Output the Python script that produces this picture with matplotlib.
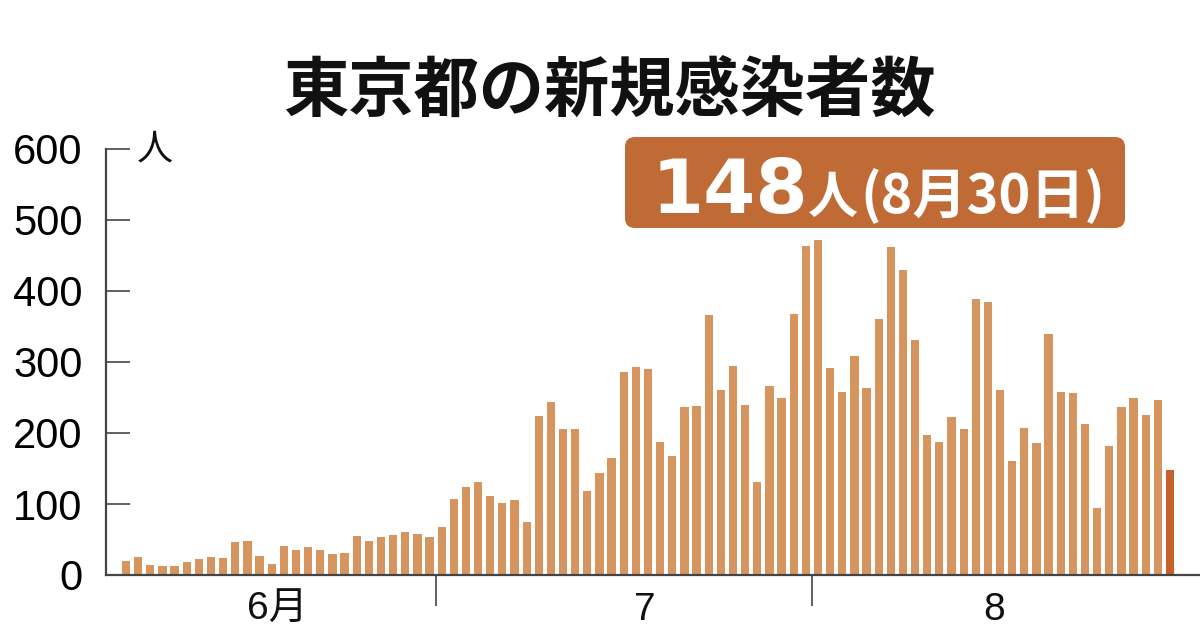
import matplotlib
matplotlib.use("Agg")
import matplotlib.pyplot as plt
from matplotlib.patches import FancyBboxPatch
import numpy as np

# Daily new cases in Tokyo, 2020-06-05 .. 2020-08-30
june = [20, 26, 14, 13, 12, 18, 22, 25, 24, 47, 48, 27, 16, 41, 35, 39, 35, 29, 31,
        55, 48, 54, 57, 60, 58, 54]
july = [67, 107, 124, 131, 111, 102, 106, 75, 224, 243, 206, 206, 119, 143, 165, 286,
        293, 290, 188, 168, 237, 238, 366, 260, 295, 239, 131, 266, 250, 367, 463]
august = [472, 292, 258, 309, 263, 360, 462, 429, 331, 197, 188, 222, 206, 389, 385,
          260, 161, 207, 186, 339, 258, 256, 212, 95, 182, 236, 250, 226, 247, 148]
values = june + july + august
month_labels = ["6月", "7", "8"]
yticks = [0, 100, 200, 300, 400, 500, 600]
title = "東京都の新規感染者数"
callout_big = "148"
callout_unit = "人"
callout_date = "(8月30日)"
unit = "人"

BAR = "#D6955F"
LAST = "#C5612A"
BOX = "#C06B36"
AXC = "#444444"
CJK = ["Noto Sans CJK JP", "DejaVu Sans"]
LAT = ["Liberation Sans", "Noto Sans CJK JP", "DejaVu Sans"]

fig = plt.figure(figsize=(12, 6.28), dpi=100)
fig.patch.set_facecolor("white")
ax = fig.add_axes([106 / 1200, 1 - 575 / 628, 1 - 106 / 1200, (575 - 149) / 628])

n = len(values)
x = np.arange(n)
colors = [BAR] * (n - 1) + [LAST]
ax.bar(x, values, width=0.68, color=colors, linewidth=0)

ax.set_xlim(-1.65, 88.47)
ax.set_ylim(0, 600)
for s in ["top", "right"]:
    ax.spines[s].set_visible(False)
for s in ["left", "bottom"]:
    ax.spines[s].set_color(AXC)
    ax.spines[s].set_linewidth(1.6)

ax.set_yticks(yticks)
ax.set_yticklabels([str(v) for v in yticks], family=LAT, fontsize=30)
ax.tick_params(axis="y", direction="in", length=17, width=1.2, color=AXC, pad=17)

n_jun, n_jul = len(june), len(july)
ax.set_xticks([n_jun - 0.5, n_jun + n_jul - 0.5])
ax.set_xticklabels([])
ax.tick_params(axis="x", direction="out", length=22, width=1.2, color=AXC)

label_x = [(n_jun - 1) / 2, n_jun + 16.7, n_jun + n_jul + (len(august) - 1) / 2]
for lx, lab in zip(label_x, month_labels):
    ax.text(lx, -0.04, lab, transform=ax.get_xaxis_transform(), ha="center", va="top",
            fontsize=28, family=LAT, color="#111111")

ax.text(-1.65 + 2.5, 600, unit, transform=ax.transData, ha="left", va="center",
        fontsize=26, family=CJK, color="#111111")

fig.text(609 / 1200, 1 - 92 / 628, title, ha="center", va="center", fontsize=47,
         family=CJK, weight="bold", color="#111111")

box = FancyBboxPatch((6.25, (628 - 228) / 100), 5.0, 0.91,
                     boxstyle="round,pad=0,rounding_size=0.1",
                     transform=fig.dpi_scale_trans, facecolor=BOX, edgecolor="none")
fig.patches.append(box)
base = (628 - 213) / 100
fig.text(6.52, base, callout_big, transform=fig.dpi_scale_trans,
         ha="left", va="baseline", fontsize=54, family=["DejaVu Sans"], weight="bold",
         color="white")
fig.text(8.08, base, callout_unit, transform=fig.dpi_scale_trans,
         ha="left", va="baseline", fontsize=36, family=CJK, weight="bold", color="white")
fig.text(8.60, base, callout_date, transform=fig.dpi_scale_trans,
         ha="left", va="baseline", fontsize=39, family=CJK, weight="bold", color="white")

fig.savefig("out.png", dpi=100)
